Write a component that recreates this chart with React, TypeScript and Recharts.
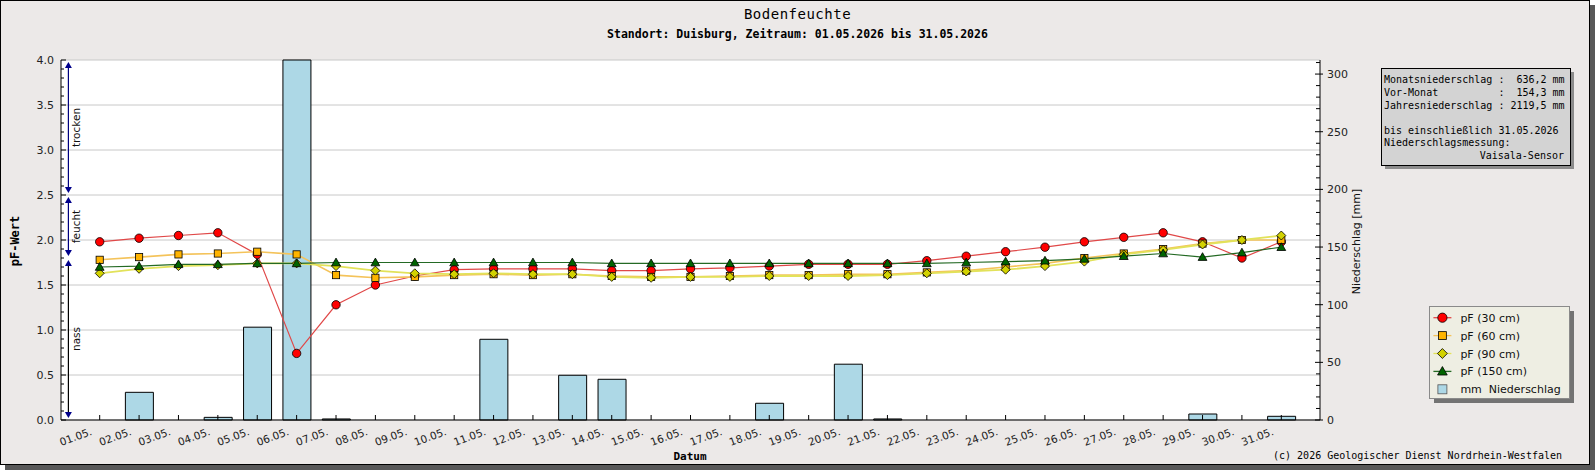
import React from 'react';
import {
  ComposedChart,
  Bar,
  Line,
  XAxis,
  YAxis,
  CartesianGrid,
  ReferenceArea,
  Legend,
} from 'recharts';

const days = [
  '01.05.', '02.05.', '03.05.', '04.05.', '05.05.', '06.05.', '07.05.', '08.05.',
  '09.05.', '10.05.', '11.05.', '12.05.', '13.05.', '14.05.', '15.05.', '16.05.',
  '17.05.', '18.05.', '19.05.', '20.05.', '21.05.', '22.05.', '23.05.', '24.05.',
  '25.05.', '26.05.', '27.05.', '28.05.', '29.05.', '30.05.', '31.05.',
];

const pf30 = [
  1.98, 2.02, 2.05, 2.08, 1.84, 0.74, 1.28, 1.5, 1.6, 1.67, 1.68, 1.68, 1.68, 1.66, 1.66, 1.68,
  1.69, 1.71, 1.73, 1.73, 1.73, 1.77, 1.82, 1.87, 1.92, 1.98, 2.03, 2.08, 1.98, 1.8, 1.98,
];
const pf60 = [
  1.78, 1.81, 1.84, 1.85, 1.87, 1.84, 1.61, 1.58, 1.59, 1.61, 1.62, 1.61, 1.62, 1.6, 1.59, 1.59,
  1.6, 1.61, 1.61, 1.62, 1.62, 1.64, 1.66, 1.7, 1.74, 1.8, 1.85, 1.9, 1.96, 2.0, 2.0,
];
const pf90 = [
  1.63, 1.68, 1.71, 1.72, 1.74, 1.74, 1.71, 1.66, 1.63, 1.62, 1.63, 1.62, 1.62, 1.59, 1.58, 1.59,
  1.59, 1.6, 1.6, 1.6, 1.61, 1.63, 1.65, 1.67, 1.71, 1.76, 1.84, 1.89, 1.95, 2.0, 2.05,
];
const pf150 = [
  1.7, 1.71, 1.73, 1.73, 1.74, 1.74, 1.75, 1.75, 1.75, 1.75, 1.75, 1.75, 1.75, 1.74, 1.74, 1.74,
  1.74, 1.74, 1.74, 1.74, 1.74, 1.74, 1.75, 1.76, 1.77, 1.79, 1.82, 1.85, 1.81, 1.86, 1.92,
];
const rainMm = [
  0, 24.0, 0, 2.3, 80.5, 312.2, 0.9, 0, 0, 0, 70.0, 0, 38.8, 35.3, 0, 0,
  0, 14.5, 0, 48.4, 0.9, 0, 0, 0, 0, 0, 0, 0, 5.2, 0, 3.2,
];

const leftTicks = [
  0, 0.1, 0.2, 0.3, 0.4, 0.5, 0.6, 0.7, 0.8, 0.9, 1.0, 1.1, 1.2, 1.3, 1.4, 1.5, 1.6, 1.7, 1.8, 1.9,
  2.0, 2.1, 2.2, 2.3, 2.4, 2.5, 2.6, 2.7, 2.8, 2.9, 3.0, 3.1, 3.2, 3.3, 3.4, 3.5, 3.6, 3.7, 3.8,
  3.9, 4.0,
];
const leftMajorTicks = [0, 0.5, 1.0, 1.5, 2.0, 2.5, 3.0, 3.5, 4.0];
const rightTicks = [
  0, 10, 20, 30, 40, 50, 60, 70, 80, 90, 100, 110, 120, 130, 140, 150, 160, 170, 180, 190, 200,
  210, 220, 230, 240, 250, 260, 270, 280, 290, 300, 310,
];
const rightMajorTicks = [0, 50, 100, 150, 200, 250, 300];

const zones = [
  { name: 'trocken', from: 2.5, to: 4.0, stroke: '#000080' },
  { name: 'feucht', from: 1.8, to: 2.5, stroke: '#000080' },
  { name: 'nass', from: 0, to: 1.8, stroke: '#000000' },
];

const infoLines = [
  'Monatsniederschlag :  636,2 mm',
  'Vor-Monat          :  154,3 mm',
  'Jahresniederschlag : 2119,5 mm',
  '',
  'bis einschließlich 31.05.2026',
  'Niederschlagsmessung:',
];
const infoLastLine = 'Vaisala-Sensor';

const legendItems = [
  { label: 'pF (30 cm)', kind: 'circle' },
  { label: 'pF (60 cm)', kind: 'square' },
  { label: 'pF (90 cm)', kind: 'diamond' },
  { label: 'pF (150 cm)', kind: 'triangle' },
  { label: 'mm  Niederschlag', kind: 'bar' },
];

const data = days.map((d, i) => ({
  day: d,
  pf30: pf30[i],
  pf60: pf60[i],
  pf90: pf90[i],
  pf150: pf150[i],
  rain: rainMm[i],
}));

const W = 1595;
const H = 470;
const PLOT_LEFT = 61;
const PLOT_RIGHT = 1320;
const PLOT_TOP = 60;
const PLOT_BOTTOM = 420;
const BG = '#ECE9E8';
const MONO = '"DejaVu Sans Mono", monospace';
const SANS = '"DejaVu Sans", sans-serif';

const colors = {
  circle: { fill: '#ff0000', line: '#e04848' },
  square: { fill: '#ffb400', line: '#f4c35a' },
  diamond: { fill: '#d2d200', line: '#e2e25a' },
  triangle: { fill: '#006400', line: '#246a24' },
};

function Marker({ kind, cx, cy, scale = 1 }: { kind: string; cx: number; cy: number; scale?: number }) {
  const s = scale;
  if (kind === 'circle') {
    return <circle cx={cx} cy={cy} r={4.2 * s} fill={colors.circle.fill} stroke="#000" strokeWidth={0.8} />;
  }
  if (kind === 'square') {
    const h = 3.6 * s;
    return (
      <rect x={cx - h} y={cy - h} width={2 * h} height={2 * h} fill={colors.square.fill} stroke="#000" strokeWidth={0.8} />
    );
  }
  if (kind === 'diamond') {
    const h = 4.5 * s;
    return (
      <polygon
        points={`${cx},${cy - h} ${cx + h},${cy} ${cx},${cy + h} ${cx - h},${cy}`}
        fill={colors.diamond.fill}
        stroke="#000"
        strokeWidth={0.8}
      />
    );
  }
  const h = 4.4 * s;
  return (
    <polygon
      points={`${cx},${cy - h} ${cx + h},${cy + h * 0.75} ${cx - h},${cy + h * 0.75}`}
      fill={colors.triangle.fill}
      stroke="#000"
      strokeWidth={0.8}
    />
  );
}

const makeDot = (kind: string) => (props: any) => {
  const { cx, cy, index } = props;
  if (cx == null || cy == null) return <g key={`${kind}-${index}`} />;
  return (
    <g key={`${kind}-${index}`}>
      <Marker kind={kind} cx={cx} cy={cy} />
    </g>
  );
};

const DayTick = (props: any) => {
  const { x, y, payload } = props;
  const lx = x - 7;
  const ly = y + 14.5;
  return (
    <g>
      <line x1={x} x2={x} y1={y} y2={y - 5} stroke="#000" />
      <text
        x={lx}
        y={ly}
        textAnchor="end"
        fontSize={10.5}
        fontFamily={SANS}
        fill="#222"
        transform={`rotate(-20 ${lx} ${ly})`}
      >
        {payload.value}
      </text>
    </g>
  );
};

const LeftTick = (props: any) => {
  const { x, y, payload } = props;
  const major = leftMajorTicks.includes(payload.value);
  return (
    <g>
      <line x1={x} x2={x + (major ? 5 : 3)} y1={y} y2={y} stroke="#000" />
      {major && (
        <text x={x - 7} y={y + 4} textAnchor="end" fontSize={11} fontFamily={SANS} fill="#222">
          {payload.value.toFixed(1)}
        </text>
      )}
    </g>
  );
};

const RightTick = (props: any) => {
  const { x, y, payload } = props;
  const major = rightMajorTicks.includes(payload.value);
  return (
    <g>
      <line x1={x - (major ? 5 : 4)} x2={x + (major ? 3 : 0)} y1={y} y2={y} stroke="#000" />
      {major && (
        <text x={x + 7} y={y + 4} textAnchor="start" fontSize={11} fontFamily={SANS} fill="#222">
          {payload.value}
        </text>
      )}
    </g>
  );
};

const zoneShape = (zone: (typeof zones)[number]) => (props: any) => {
  const { y, height } = props;
  const ax = PLOT_LEFT + 7.4;
  const top = y + 2;
  const bottom = y + height - 2;
  const mid = y + height / 2;
  return (
    <g>
      <line x1={ax} x2={ax} y1={top + 3} y2={bottom - 3} stroke={zone.stroke} strokeWidth={1.2} />
      <polygon points={`${ax},${top} ${ax + 3.5},${top + 6} ${ax - 3.5},${top + 6}`} fill="#00008b" />
      <polygon points={`${ax},${bottom} ${ax + 3.5},${bottom - 6} ${ax - 3.5},${bottom - 6}`} fill="#00008b" />
      <text
        x={ax + 11.5}
        y={mid}
        textAnchor="middle"
        fontSize={10.5}
        fontFamily={SANS}
        fill="#111"
        transform={`rotate(-90 ${ax + 11.5} ${mid})`}
      >
        {zone.name}
      </text>
    </g>
  );
};

const LegendBox = () => (
  <svg width={150} height={100} style={{ display: 'block' }}>
    <rect x={5} y={5} width={140} height={92} fill="#737373" />
    <rect x={0.5} y={0.5} width={140} height={92} fill="#EEEEE3" stroke="#8a8a8a" />
    {legendItems.map((it, i) => {
      const cy = 11.7 + i * 17.9;
      const cx = 13.4;
      return (
        <g key={it.label}>
          {it.kind === 'bar' ? (
            <rect x={cx - 4.5} y={cy - 4.5} width={9} height={9} fill="#ADD8E6" stroke="#555" strokeWidth={0.8} />
          ) : (
            <>
              <line x1={cx - 9} x2={cx + 9} y1={cy} y2={cy} stroke={(colors as any)[it.kind].line} strokeWidth={1.3} />
              <Marker kind={it.kind} cx={cx} cy={cy} scale={1.1} />
            </>
          )}
          <text x={31.4} y={cy + 4} fontSize={11} fontFamily={SANS} fill="#111" style={{ whiteSpace: 'pre' }}>
            {it.label}
          </text>
        </g>
      );
    })}
  </svg>
);

export default function App() {
  return (
    <div style={{ position: 'absolute', left: 0, top: 0, width: W, height: H, overflow: 'hidden' }}>
      <svg width={W} height={H} style={{ position: 'absolute', left: 0, top: 0 }}>
        <rect x={5} y={5} width={W - 5} height={H - 5} fill="#585858" />
        <rect x={0.5} y={0.5} width={1589} height={464} fill={BG} stroke="#000" />
      </svg>

      <ComposedChart
        width={W}
        height={H}
        data={data}
        margin={{ top: PLOT_TOP, right: 0, bottom: 0, left: 0 }}
        style={{ fontFamily: SANS }}
      >
        <CartesianGrid
          yAxisId="left"
          vertical={false}
          horizontalValues={leftMajorTicks}
          stroke="#c8c8c8"
          fill="#ffffff"
          fillOpacity={1}
        />
        <XAxis
          dataKey="day"
          interval={0}
          height={H - PLOT_BOTTOM}
          padding={{ left: 19, right: 19 }}
          axisLine={{ stroke: '#000' }}
          tickLine={false}
          tickSize={0}
          tickMargin={0}
          tick={<DayTick />}
        />
        <YAxis
          yAxisId="left"
          orientation="left"
          width={PLOT_LEFT}
          domain={[0, 4]}
          ticks={leftTicks}
          interval={0}
          axisLine={{ stroke: '#000' }}
          tickLine={false}
          tickSize={0}
          tickMargin={0}
          tick={<LeftTick />}
        />
        <YAxis
          yAxisId="right"
          orientation="right"
          width={W - PLOT_RIGHT}
          domain={[0, 312.2]}
          ticks={rightTicks}
          interval={0}
          axisLine={{ stroke: '#000' }}
          tickLine={false}
          tickSize={0}
          tickMargin={0}
          tick={<RightTick />}
        />
        {zones.map((z) => (
          <ReferenceArea key={z.name} yAxisId="left" y1={z.from} y2={z.to} shape={zoneShape(z)} />
        ))}
        <Bar
          yAxisId="right"
          dataKey="rain"
          barSize={28}
          fill="#ADD8E6"
          stroke="#000"
          strokeWidth={1}
          isAnimationActive={false}
        />
        <Line
          yAxisId="left"
          dataKey="pf30"
          type="linear"
          stroke={colors.circle.line}
          strokeWidth={1.2}
          dot={makeDot('circle')}
          activeDot={false}
          isAnimationActive={false}
        />
        <Line
          yAxisId="left"
          dataKey="pf60"
          type="linear"
          stroke={colors.square.line}
          strokeWidth={1.6}
          dot={makeDot('square')}
          activeDot={false}
          isAnimationActive={false}
        />
        <Line
          yAxisId="left"
          dataKey="pf90"
          type="linear"
          stroke={colors.diamond.line}
          strokeWidth={1.8}
          dot={makeDot('diamond')}
          activeDot={false}
          isAnimationActive={false}
        />
        <Line
          yAxisId="left"
          dataKey="pf150"
          type="linear"
          stroke={colors.triangle.line}
          strokeWidth={1.2}
          dot={makeDot('triangle')}
          activeDot={false}
          isAnimationActive={false}
        />
        <Legend
          layout="vertical"
          align="center"
          verticalAlign="middle"
          content={<LegendBox />}
          wrapperStyle={{ position: 'absolute', left: 1429, top: 306, width: 150, height: 100, margin: 0, padding: 0 }}
        />
      </ComposedChart>

      <svg width={W} height={H} style={{ position: 'absolute', left: 0, top: 0, pointerEvents: 'none' }}>
        <text x={W / 2} y={19} textAnchor="middle" fontSize={14} fontFamily={MONO} letterSpacing={0.5} fill="#000">
          Bodenfeuchte
        </text>
        <text x={W / 2} y={37.5} textAnchor="middle" fontSize={11.5} fontWeight="bold" fontFamily={MONO} fill="#000">
          Standort: Duisburg, Zeitraum: 01.05.2026 bis 31.05.2026
        </text>
        <text
          x={19}
          y={241}
          textAnchor="middle"
          fontSize={12}
          fontWeight="bold"
          fontFamily={MONO}
          transform="rotate(-90 19 241)"
          fill="#000"
        >
          pF-Wert
        </text>
        <text
          x={1360}
          y={241.5}
          textAnchor="middle"
          fontSize={11}
          fontFamily={SANS}
          transform="rotate(-90 1360 241.5)"
          fill="#111"
        >
          Niederschlag [mm]
        </text>
        <text x={690} y={460} textAnchor="middle" fontSize={11} fontWeight="bold" fontFamily={MONO} fill="#000">
          Datum
        </text>
        <text x={1562} y={458.5} textAnchor="end" fontSize={10} fontFamily={MONO} fill="#000">
          (c) 2026 Geologischer Dienst Nordrhein-Westfalen
        </text>

        <rect x={1385} y={72} width={189} height={97} fill="#8c8c8c" />
        <rect x={1381.5} y={68.5} width={189} height={97} fill="#d3d3d3" stroke="#000" />
        {infoLines.map((t, i) => (
          <text
            key={i}
            x={1384}
            y={83.3 + i * 12.6}
            fontSize={10}
            fontFamily={MONO}
            fill="#000"
            style={{ whiteSpace: 'pre' }}
          >
            {t}
          </text>
        ))}
        <text x={1564} y={83.3 + infoLines.length * 12.6} textAnchor="end" fontSize={10} fontFamily={MONO} fill="#000">
          {infoLastLine}
        </text>
      </svg>
    </div>
  );
}
